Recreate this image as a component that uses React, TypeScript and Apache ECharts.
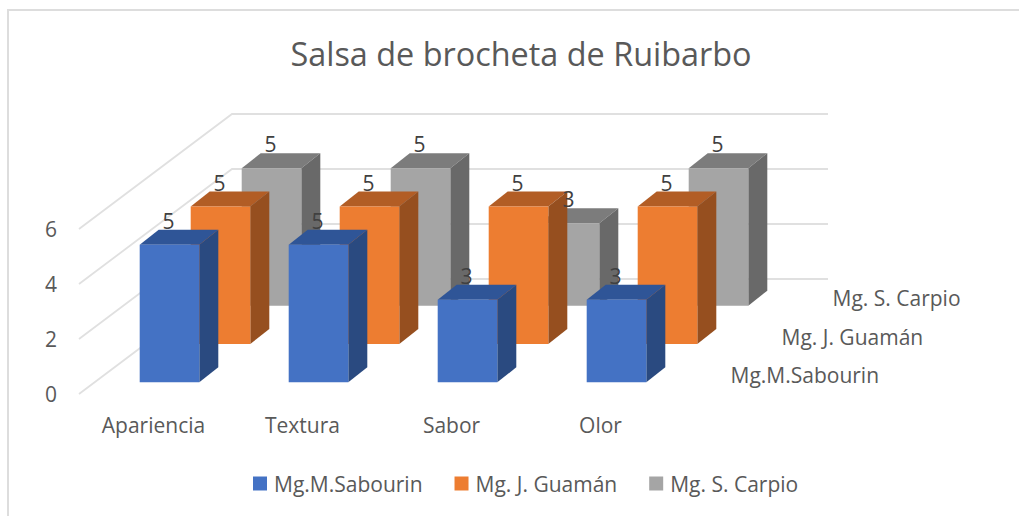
import React, { useEffect, useRef } from "react";
import * as echarts from "echarts";

const categories = ["Apariencia", "Textura", "Sabor", "Olor"];
const seriesNames = ["Mg.M.Sabourin", "Mg. J. Guamán", "Mg. S. Carpio"];
const sabourinValues = [5, 5, 3, 3];
const guamanValues = [5, 5, 5, 5];
const carpioValues = [5, 5, 3, 5];
const yTicks = [0, 2, 4, 6];
const titleText = "Salsa de brocheta de Ruibarbo";

const seriesValues = [sabourinValues, guamanValues, carpioValues];
const faceColors = [
  { front: "#4472C4", top: "#2F5597", side: "#2A4A80" },
  { front: "#ED7D31", top: "#B25D25", side: "#964F1F" },
  { front: "#A5A5A5", top: "#7C7C7C", side: "#696969" },
];
const FONT = "Open Sans";
const TEXT = "#595959";
const DEPTH_X = 153;
const DEPTH_Y = 115;
const BAR_DEPTH_X = 19;
const BAR_DEPTH_Y = 15;
const BAR_RATIO = 0.4;

function barOffset(s: number) {
  const f = (s + 0.5) / 3;
  return [f * DEPTH_X - BAR_DEPTH_X / 2, -(f * DEPTH_Y - BAR_DEPTH_Y / 2)];
}

export default function App() {
  const ref = useRef<HTMLDivElement>(null);
  useEffect(() => {
    document.body.style.margin = "0";
    const chart = echarts.init(ref.current!, undefined, { renderer: "svg" });

    const wallSeries: any = {
      type: "custom",
      name: "walls",
      data: yTicks.map((v) => [0, v]),
      silent: true,
      z: 1,
      renderItem: (params: any, api: any) => {
        const sys = params.coordSys;
        const y = api.coord([0, api.value(1)])[1];
        return {
          type: "polyline",
          shape: {
            points: [
              [sys.x, y],
              [sys.x + DEPTH_X, y - DEPTH_Y],
              [sys.x + sys.width + DEPTH_X, y - DEPTH_Y],
            ],
          },
          style: { stroke: "#E0E0E0", lineWidth: 1.8, fill: "none" },
        };
      },
    };

    const depthLabelSeries: any = {
      type: "custom",
      name: "depth",
      data: seriesNames.map((_, i) => [0, i]),
      silent: true,
      z: 2,
      renderItem: (params: any, api: any) => {
        const sys = params.coordSys;
        const s = api.value(1);
        const f = (s + 0.5) / 3;
        const base = api.coord([0, 0])[1];
        return {
          type: "text",
          x: sys.x + sys.width + f * DEPTH_X + 30,
          y: base - f * DEPTH_Y,
          style: {
            text: seriesNames[s],
            fill: TEXT,
            font: `21px "${FONT}"`,
            align: "left",
            verticalAlign: "middle",
          },
        };
      },
    };

    const barSeries = [2, 1, 0].map((s) => ({
      type: "custom",
      name: seriesNames[s],
      data: seriesValues[s].map((v, i) => [i, v]),
      itemStyle: { color: faceColors[s].front },
      z: 3 + (2 - s),
      renderItem: (_: any, api: any) => {
        const i = api.value(0);
        const v = api.value(1);
        const [ox, oy] = barOffset(s);
        const w = api.size([1, 0])[0] * BAR_RATIO;
        const top = api.coord([i, v]);
        const bottom = api.coord([i, 0]);
        const l = top[0] + ox - w / 2;
        const r = l + w;
        const t = top[1] + oy;
        const b = bottom[1] + oy;
        const c = faceColors[s];
        const poly = (points: number[][], fill: string) => ({
          type: "polygon",
          shape: { points },
          style: { fill },
        });
        return {
          type: "group",
          children: [
            poly([[l, t], [r, t], [r + BAR_DEPTH_X, t - BAR_DEPTH_Y], [l + BAR_DEPTH_X, t - BAR_DEPTH_Y]], c.top),
            poly([[r, t], [r + BAR_DEPTH_X, t - BAR_DEPTH_Y], [r + BAR_DEPTH_X, b - BAR_DEPTH_Y], [r, b]], c.side),
            poly([[l, t], [r, t], [r, b], [l, b]], c.front),
          ],
        };
      },
    }));

    const labelSeries = [2, 1, 0].map((s) => ({
      type: "custom",
      name: `labels-${s}`,
      data: seriesValues[s].map((v, i) => [i, v]),
      silent: true,
      z: 10,
      renderItem: (_: any, api: any) => {
        const i = api.value(0);
        const v = api.value(1);
        const [ox, oy] = barOffset(s);
        const top = api.coord([i, v]);
        return {
          type: "text",
          x: top[0] + ox - 1,
          y: top[1] + oy - 24,
          style: {
            text: String(v),
            fill: "#404040",
            font: `21px "${FONT}"`,
            align: "center",
            verticalAlign: "middle",
          },
        };
      },
    }));

    chart.setOption({
      animation: false,
      backgroundColor: "#FFFFFF",
      title: {
        text: titleText,
        left: 516,
        top: 32,
        textAlign: "center",
        textStyle: { fontFamily: FONT, fontSize: 32.4, fontWeight: "normal", color: TEXT },
      },
      legend: {
        data: seriesNames,
        left: 248,
        top: 468,
        icon: "rect",
        itemWidth: 14,
        itemHeight: 14,
        itemGap: 32,
        textStyle: { fontFamily: FONT, fontSize: 21, color: TEXT, padding: [0, 0, 0, 2] },
      },
      grid: { left: 79, top: 229, width: 596, height: 165, containLabel: false },
      xAxis: {
        type: "category",
        data: categories,
        axisLine: { show: false },
        axisTick: { show: false },
        axisLabel: { margin: 20, fontFamily: FONT, fontSize: 21, color: TEXT },
        splitLine: { show: false },
      },
      yAxis: {
        type: "value",
        min: 0,
        max: 6,
        interval: 2,
        axisLine: { show: false },
        axisTick: { show: false },
        splitLine: { show: false },
        axisLabel: { margin: 22, fontFamily: FONT, fontSize: 21, color: TEXT, padding: [8, 0, 0, 0] },
      },
      graphic: [
        {
          type: "rect",
          shape: { x: 8, y: 10, width: 1100, height: 600 },
          style: { fill: "none", stroke: "#DDDDDD", lineWidth: 2 },
          silent: true,
          z: 0,
        },
      ],
      series: [wallSeries, depthLabelSeries, ...barSeries, ...labelSeries],
    });
    return () => chart.dispose();
  }, []);
  return <div ref={ref} style={{ width: 1019, height: 516 }} />;
}
